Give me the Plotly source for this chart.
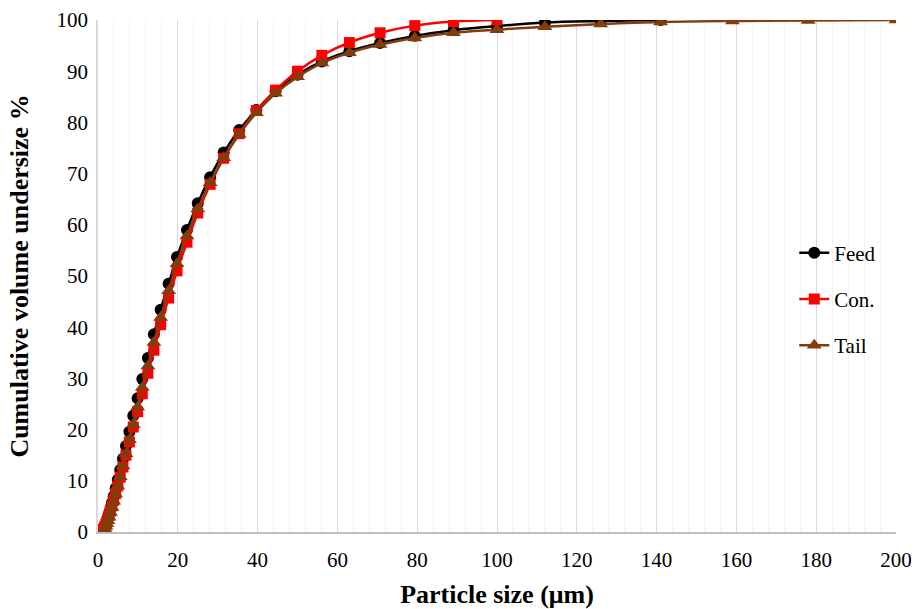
import plotly.graph_objects as go

# Particle sizes (µm), sieve series
size_feed = [1.10, 1.24, 1.39, 1.56, 1.75, 1.97, 2.21, 2.48, 2.78, 3.12, 3.50, 3.93, 4.42, 4.96,
             5.57, 6.25, 7.01, 7.87, 8.84, 9.92, 11.1, 12.5, 14.0, 15.7, 17.7, 19.8, 22.3, 25.0,
             28.1, 31.5, 35.4, 39.7, 44.5, 50.0, 56.1, 63.0, 70.7, 79.4, 89.1, 100, 112, 126, 141]
feed = [0.0, 0.1, 0.3, 0.6, 1.0, 1.5, 2.1, 2.8, 3.6, 4.6, 5.7, 7.0, 8.5, 10.2,
        12.1, 14.3, 16.8, 19.6, 22.7, 26.1, 29.9, 34.0, 38.6, 43.4, 48.5, 53.7, 59.0, 64.2,
        69.3, 74.1, 78.5, 82.4, 86.1, 89.3, 91.9, 93.9, 95.5, 96.9, 98.0, 98.8, 99.5, 99.8, 100.0]

size_con = [0.98, 1.10, 1.24, 1.39, 1.56, 1.75, 1.97, 2.21, 2.48, 2.78, 3.12, 3.50, 3.93, 4.42,
            4.96, 5.57, 6.25, 7.01, 7.87, 8.84, 9.92, 11.1, 12.5, 14.0, 15.7, 17.7, 19.8, 22.3,
            25.0, 28.1, 31.5, 35.4, 39.7, 44.5, 50.0, 56.1, 63.0, 70.7, 79.4, 89.1, 100]
con = [0.1, 0.2, 0.3, 0.5, 0.8, 1.1, 1.5, 2.0, 2.6, 3.3, 4.1, 5.1, 6.2, 7.5,
       9.0, 10.7, 12.7, 15.0, 17.6, 20.5, 23.5, 27.0, 31.0, 35.5, 40.5, 45.7, 51.0, 56.6,
       62.3, 67.9, 73.0, 77.8, 82.3, 86.3, 90.0, 93.1, 95.6, 97.5, 98.9, 99.7, 100.0]

size_tail = [1.10, 1.24, 1.39, 1.56, 1.75, 1.97, 2.21, 2.48, 2.78, 3.12, 3.50, 3.93, 4.42, 4.96,
             5.57, 6.25, 7.01, 7.87, 8.84, 9.92, 11.1, 12.5, 14.0, 15.7, 17.7, 19.8, 22.3, 25.0,
             28.1, 31.5, 35.4, 39.7, 44.5, 50.0, 56.1, 63.0, 70.7, 79.4, 89.1, 100, 112, 126,
             141, 159, 178, 200]
tail = [0.0, 0.1, 0.2, 0.4, 0.7, 1.1, 1.6, 2.2, 2.9, 3.8, 4.8, 6.0, 7.4, 9.0,
        10.8, 12.9, 15.3, 18.0, 21.0, 24.4, 28.2, 32.4, 37.0, 41.9, 47.1, 52.4, 57.8, 63.1,
        68.2, 73.1, 77.7, 81.9, 85.7, 88.9, 91.6, 93.6, 95.2, 96.5, 97.5, 98.1, 98.7, 99.2,
        99.6, 99.8, 99.9, 100.0]

x_ticks = [0, 20, 40, 60, 80, 100, 120, 140, 160, 180, 200]
y_ticks = [0, 10, 20, 30, 40, 50, 60, 70, 80, 90, 100]

FONT = "Liberation Serif, Times New Roman, serif"

fig = go.Figure()
fig.add_trace(go.Scatter(x=size_feed, y=feed, name="Feed", mode="lines+markers",
                         line=dict(color="black", width=2.5, shape="spline"),
                         marker=dict(symbol="circle", size=12, color="black"),
                         legendgroup="a"))
fig.add_trace(go.Scatter(x=size_con, y=con, name="Con.", mode="lines+markers",
                         line=dict(color="#FF0000", width=2.5, shape="spline"),
                         marker=dict(symbol="square", size=11, color="#FF0000"),
                         legendgroup="b"))
fig.add_trace(go.Scatter(x=size_tail, y=tail, name="Tail", mode="lines+markers",
                         line=dict(color="#843C0C", width=2.5, shape="spline"),
                         marker=dict(symbol="triangle-up", size=13, color="#843C0C"),
                         legendgroup="c"))

fig.update_layout(
    width=916, height=609,
    margin=dict(l=98, r=20, t=20, b=77),
    paper_bgcolor="white", plot_bgcolor="white",
    font=dict(family=FONT, size=21, color="black"),
    showlegend=True,
    legend=dict(x=0.8725, y=0.455, xanchor="left", yanchor="middle",
                font=dict(family=FONT, size=21, color="black"),
                traceorder="grouped", tracegroupgap=16,
                bgcolor="rgba(0,0,0,0)"),
    xaxis=dict(range=[0, 200], tickvals=x_ticks, ticktext=[str(v) for v in x_ticks],
               showgrid=True, gridcolor="#D9D9D9", gridwidth=1,
               minor=dict(dtick=4, showgrid=True, gridcolor="#F2F2F2", gridwidth=1),
               zeroline=False, showline=True, linecolor="#BFBFBF", linewidth=1.5,
               ticks="", automargin=False, ticklabelstandoff=8,
               title=dict(text="<b>Particle size (μm)</b>",
                          font=dict(family=FONT, size=26))),
    yaxis=dict(range=[0, 100], tickvals=y_ticks, ticktext=[str(v) for v in y_ticks],
               showgrid=False, zeroline=False, showline=True, linecolor="#D9D9D9",
               linewidth=1.5, ticks="", ticklabelstandoff=4, automargin="left",
               title=dict(text="<b>Cumulative volume undersize %</b>",
                          font=dict(family=FONT, size=26), standoff=20)),
)

fig.write_html("out.html", config={"displayModeBar": False},
               post_script="document.body.style.margin='0';")
